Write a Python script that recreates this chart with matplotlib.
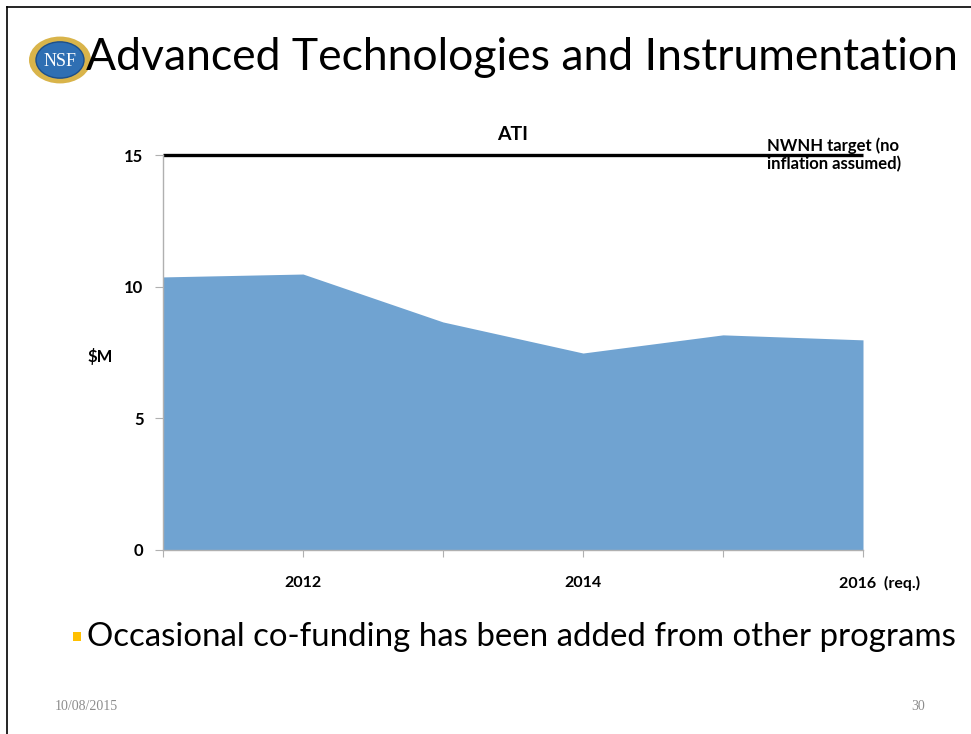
"""ATI funding slide — area chart with the NWNH target line."""

import matplotlib

matplotlib.use("Agg")
matplotlib.rcParams["font.family"] = ["Lato", "DejaVu Sans"]
import matplotlib.pyplot as plt  # noqa: E402
import matplotlib.transforms as mtransforms  # noqa: E402
from matplotlib.patches import Circle, Rectangle  # noqa: E402

# data ($M per fiscal year)
years = ["2011", "2012", "2013", "2014", "2015", "2016"]
year_labels = ["", "2012", "", "2014", "", "2016  (req.)"]
ati_funding = [10.37, 10.48, 8.66, 7.48, 8.17, 7.98]
nwnh_target = 15
y_ticks = [0, 5, 10, 15]

W, H = 971, 734
fig = plt.figure(figsize=(W / 100, H / 100), dpi=100)


def fx(px):
    return px / W


def fy(py):
    return 1 - py / H


# slide frame (top and left edges only are visible)
fig.add_artist(plt.Line2D([fx(7), fx(7)], [fy(7), 0], color="black", lw=1.2))
fig.add_artist(plt.Line2D([fx(7), 1], [fy(7), fy(7)], color="black", lw=1.2))

# NSF logo, roughly
fig.add_artist(Circle((fx(60), fy(60)), 31 / W, transform=fig.transFigure,
                      facecolor="#d9b44a", edgecolor="none"))
fig.add_artist(Circle((fx(60), fy(60)), 24 / W, transform=fig.transFigure,
                      facecolor="#2f6fb3", edgecolor="#1d4f8a", lw=1))
fig.text(fx(60), fy(61), "NSF", ha="center", va="center", color="white",
         fontsize=13, family=["Liberation Serif"])

fig.text(fx(86), fy(58), "Advanced Technologies and Instrumentation",
         ha="left", va="center", fontsize=32, color="black")

# chart area
ax = fig.add_axes([fx(163), fy(550), fx(863) - fx(163), (550 - 155) / H])
x = list(range(len(years)))
ax.fill_between(x, ati_funding, 0, color="#70a3d1", lw=0)
ax.plot([x[0], x[-1]], [nwnh_target, nwnh_target], color="black", lw=2.4,
        clip_on=False, solid_capstyle="butt")
ax.set_xlim(x[0], x[-1])
ax.set_ylim(0, 15)

for side in ("top", "right"):
    ax.spines[side].set_visible(False)
for side in ("left", "bottom"):
    ax.spines[side].set_color("#b0b0b0")
    ax.spines[side].set_linewidth(1)

ax.set_yticks(y_ticks)
ax.set_yticklabels([str(t) for t in y_ticks], fontweight="bold", fontsize=12)
ax.set_xticks(x)
ax.set_xticklabels(year_labels, fontweight="bold", fontsize=11.5)
ax.tick_params(axis="y", length=6, color="#b0b0b0", pad=8)
ax.tick_params(axis="x", length=5, color="#b0b0b0", pad=14)
# last label sits a bit right of its tick on the slide
last = ax.get_xticklabels()[-1]
last.set_transform(last.get_transform() +
                   mtransforms.ScaledTranslation(0.17, 0, fig.dpi_scale_trans))

ax.set_title("ATI", fontweight="bold", fontsize=14, pad=11)
fig.text(fx(100), fy(356), "$M", fontweight="bold", fontsize=12,
         ha="center", va="center")
fig.text(fx(767), fy(137), "NWNH target (no\ninflation assumed)",
         fontweight="bold", fontsize=12, ha="left", va="top",
         linespacing=1.2)

# bullet
fig.add_artist(Rectangle((fx(73), fy(641)), 8 / W, 9 / H,
                         transform=fig.transFigure, color="#ffc000", lw=0))
fig.text(fx(87), fy(637), "Occasional co-funding has been added from other programs",
         ha="left", va="center", fontsize=23.8, color="black")

# footer
fig.text(fx(55), fy(707), "10/08/2015", ha="left", va="center", fontsize=10,
         color="#8c8c8c", family=["Liberation Serif"])
fig.text(fx(925), fy(707), "30", ha="right", va="center", fontsize=10,
         color="#8c8c8c", family=["Liberation Serif"])

fig.savefig("out.png", dpi=100)
